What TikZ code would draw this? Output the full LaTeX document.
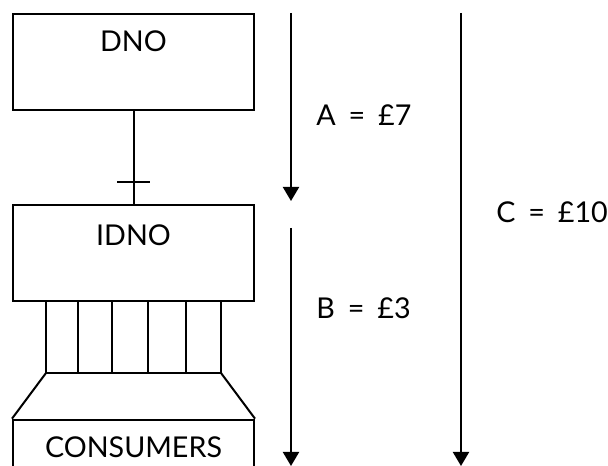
\documentclass[tikz,border=0pt]{standalone}
\usepackage{fontspec}
\setmainfont{Lato}
\usetikzlibrary{arrows.meta}
\newcommand{\eqsp}{\hspace{0.45em}=\hspace{0.45em}}
\begin{document}
\begin{tikzpicture}[x=0.75pt,y=-0.75pt,
  line width=1.5pt,
  unitbox/.style={draw,rectangle,minimum width=180.75pt,minimum height=72pt,inner sep=0pt},
  boxtext/.style={font=\fontsize{21.5}{25}\selectfont},
  flow/.style={-{Triangle[width=12pt,length=10.5pt]}},
  amount/.style={anchor=west,font=\fontsize{21.5}{25}\selectfont}]
\useasboundingbox (0,0) rectangle (608,466);
\clip (0,0) rectangle (608,466);

% operator boxes
\node[unitbox] (dno) at (133.5,62) {};
\node[boxtext] (dnot) at (133.5,41) {DNO};
\node[unitbox] (idno) at (133.5,253) {};
\node[boxtext] (idnot) at (133.5,235) {IDNO};
\node[unitbox,minimum height=80pt] (cons) at (133.5,473) {};
\node[boxtext] (const) at (133.5,447) {CONSUMERS};

% single link DNO to IDNO with cross tick
\draw (dno.south) -- (idno.north);
\coordinate (tl) at (117,182);
\coordinate (tr) at (150,182);
\draw (tl) -- (tr);

% service cables from IDNO
\foreach \i/\x in {1/46,2/78,3/112,4/148,5/186,6/221}{
  \coordinate (w\i t) at (\x,301);
  \coordinate (w\i b) at (\x,373);
  \draw (w\i t) -- (w\i b);
}
\draw (w1b) -- (w6b);
\draw (w1b) -- (cons.north west);
\draw (w6b) -- (cons.north east);

% charge arrows
\coordinate (at) at (291,13);
\coordinate (ab) at (291,201);
\coordinate (bt) at (291,228);
\coordinate (bb) at (291,466);
\coordinate (ct) at (461,13);
\coordinate (cb) at (461,466);
\draw[flow] (at) -- (ab);
\draw[flow] (bt) -- (bb);
\draw[flow] (ct) -- (cb);

\node[amount] (la) at (311,115) {A\eqsp£7};
\node[amount] (lb) at (311,308) {B\eqsp£3};
\node[amount] (lc) at (491,212) {C\eqsp£10};
\end{tikzpicture}
\end{document}
